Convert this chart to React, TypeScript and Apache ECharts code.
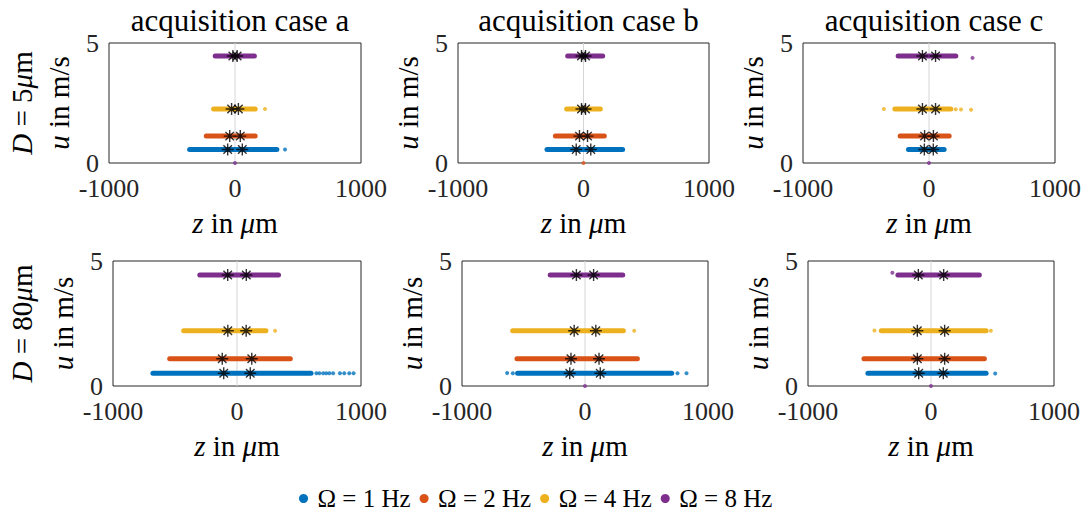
import React, { useEffect, useRef } from 'react';
import * as echarts from 'echarts';

const caseTitles = ['acquisition case a', 'acquisition case b', 'acquisition case c'];
const diameters = ['5', '80'];
const freqNames = ['Ω = 1 Hz', 'Ω = 2 Hz', 'Ω = 4 Hz', 'Ω = 8 Hz'];
const colors = ['#0072BD', '#D95319', '#EDB120', '#7E2F8E'];
const uRowTop = [0.56, 1.12, 2.25, 4.46];
const uRowBottom = [0.51, 1.09, 2.21, 4.44];
const xRange = [-1000, 1000];
const yRange = [0, 5];

// band extents [zmin, zmax] in µm, per frequency (1, 2, 4, 8 Hz)
const bandsA5 = [[-360, 332], [-228, 160], [-170, 160], [-157, 154]];
const bandsB5 = [[-291, 312], [-224, 166], [-134, 134], [-126, 153]];
const bandsC5 = [[-163, 120], [-229, 160], [-271, 173], [-245, 213]];
const bandsA80 = [[-678, 597], [-543, 430], [-430, 233], [-300, 335]];
const bandsB80 = [[-548, 705], [-553, 426], [-588, 312], [-283, 307]];
const bandsC80 = [[-513, 448], [-545, 434], [-404, 448], [-269, 393]];

// isolated points [z, u] per frequency
const outliersA5 = [[[397, 0.56]], [], [[238, 2.25]], []];
const outliersB5 = [[], [], [], []];
const outliersC5 = [[], [], [[-358, 2.25], [212, 2.24], [254, 2.23], [334, 2.22]], [[345, 4.38]]];
const outliersA80 = [
  [[640, 0.51], [665, 0.51], [695, 0.51], [720, 0.51], [745, 0.51], [775, 0.51], [830, 0.51], [865, 0.51], [905, 0.51], [940, 0.51]],
  [], [[307, 2.21]], []];
const outliersB80 = [[[-633, 0.52], [-587, 0.51], [752, 0.51], [825, 0.51]], [], [[400, 2.21]], []];
const outliersC80 = [[[522, 0.5]], [], [[-460, 2.22], [487, 2.21]], [[-314, 4.53]]];

// asterisk markers (z positions) per frequency
const starsA5 = [[-58, 58], [-42, 42], [-27, 27], [-17, 17]];
const starsB5 = [[-58, 58], [-32, 32], [-16, 16], [-16, 16]];
const starsC5 = [[-37, 34], [-35, 35], [-52, 52], [-52, 52]];
const starsA80 = [[-107, 107], [-119, 119], [-74, 74], [-75, 75]];
const starsB80 = [[-124, 124], [-114, 114], [-88, 88], [-70, 70]];
const starsC80 = [[-100, 100], [-111, 111], [-111, 111], [-103, 103]];

// frequency index of the single point at (0, 0), -1 = none
const zeroPointFreq = [3, 1, 3, -1, 3, 3];

const panelBands = [bandsA5, bandsB5, bandsC5, bandsA80, bandsB80, bandsC80];
const panelOutliers = [outliersA5, outliersB5, outliersC5, outliersA80, outliersB80, outliersC80];
const panelStars = [starsA5, starsB5, starsC5, starsA80, starsB80, starsC80];

const gridBoxes = [
  { left: 109, top: 43, width: 252, height: 120 },
  { left: 458, top: 43, width: 251, height: 120 },
  { left: 803, top: 43, width: 252, height: 120 },
  { left: 113, top: 261, width: 248, height: 125 },
  { left: 462, top: 261, width: 246, height: 125 },
  { left: 808, top: 261, width: 246, height: 125 },
];

const SERIF = 'Liberation Serif';
const STAR = 'path://M5 0L5 10M0 5L10 5M1.46 1.46L8.54 8.54M1.46 8.54L8.54 1.46';

export default function App() {
  const ref = useRef<HTMLDivElement>(null);
  useEffect(() => {
    document.body.style.margin = '0';
    const chart = echarts.init(ref.current!, null, { renderer: 'svg' });
    const richName = {
      i: { fontStyle: 'italic', fontFamily: SERIF, fontSize: 29, color: '#000' },
      r: { fontStyle: 'normal', fontFamily: SERIF, fontSize: 29, color: '#000' },
    };
    const grid: any[] = [];
    const xAxis: any[] = [];
    const yAxis: any[] = [];
    const series: any[] = [];
    gridBoxes.forEach((g, p) => {
      const row = p < 3 ? 0 : 1;
      const uRow = row === 0 ? uRowTop : uRowBottom;
      grid.push({ ...g, show: true, borderColor: '#262626', borderWidth: 1, backgroundColor: '#fff' });
      xAxis.push({
        gridIndex: p, type: 'value', min: xRange[0], max: xRange[1], interval: 1000,
        axisLine: { show: false }, axisTick: { show: false }, splitLine: { show: false },
        axisLabel: {
          fontFamily: SERIF, fontSize: 26, color: '#262626', margin: 12, showMinLabel: true, showMaxLabel: true,
          formatter: (v: number) => String(v),
        },
        name: '{i|z}{r| in }{i|μ}{r|m}', nameLocation: 'middle', nameGap: 45,
        nameTextStyle: { fontFamily: SERIF, fontSize: 29, color: '#000', rich: richName },
      });
      yAxis.push({
        gridIndex: p, type: 'value', min: yRange[0], max: yRange[1], interval: 5,
        axisLine: { show: false }, axisTick: { show: false }, splitLine: { show: false },
        axisLabel: { fontFamily: SERIF, fontSize: 26, color: '#262626', margin: 10, formatter: (v: number) => String(v) },
        name: '{i|u}{r| in m/s}', nameLocation: 'middle', nameGap: 36,
        nameTextStyle: { fontFamily: SERIF, fontSize: 29, color: '#000', rich: richName },
      });
      series.push({
        type: 'line', xAxisIndex: p, yAxisIndex: p, data: [[0, yRange[0]], [0, yRange[1]]],
        symbol: 'none', lineStyle: { color: '#d6d6d6', width: 1 }, z: 1, silent: true,
      });
      panelBands[p].forEach((b, f) => {
        series.push({
          type: 'line', name: freqNames[f], xAxisIndex: p, yAxisIndex: p,
          data: [[b[0], uRow[f]], [b[1], uRow[f]]], symbol: 'none',
          lineStyle: { color: colors[f], width: 5, cap: 'round' }, itemStyle: { color: colors[f] }, z: 2,
        });
        const pts = panelOutliers[p][f].slice();
        if (zeroPointFreq[p] === f) pts.push([0, 0]);
        if (pts.length) {
          series.push({
            type: 'scatter', name: freqNames[f], xAxisIndex: p, yAxisIndex: p, data: pts,
            symbolSize: 4, itemStyle: { color: colors[f] }, clip: false, z: 2,
          });
        }
      });
      const starPts: number[][] = [];
      panelStars[p].forEach((s, f) => s.forEach((z) => starPts.push([z, uRow[f]])));
      series.push({
        type: 'scatter', name: 'stars', xAxisIndex: p, yAxisIndex: p, data: starPts,
        symbol: STAR, symbolSize: 12, itemStyle: { color: 'rgba(0,0,0,0)', borderColor: '#000', borderWidth: 1.4 },
        clip: false, z: 4,
      });
    });
    const title = caseTitles.map((t, c) => ({
      text: t, left: gridBoxes[c].left + gridBoxes[c].width / 2, top: 0, textAlign: 'center',
      textStyle: { fontFamily: SERIF, fontSize: 31, fontWeight: 'normal', color: '#000' },
    }));
    const graphic = diameters.map((d, r) => ({
      type: 'text', x: 22, y: gridBoxes[r * 3].top + gridBoxes[r * 3].height / 2, rotation: Math.PI / 2,
      style: {
        text: '{i|D}{r| = ' + d + '}{i|μ}{r|m}', fontFamily: SERIF, fontSize: 29, fill: '#000',
        align: 'center', verticalAlign: 'middle',
        rich: {
          i: { fontStyle: 'italic', fontFamily: SERIF, fontSize: 29, fill: '#000' },
          r: { fontStyle: 'normal', fontFamily: SERIF, fontSize: 29, fill: '#000' },
        },
      },
    }));
    chart.setOption({
      animation: false,
      backgroundColor: '#fff',
      title,
      grid,
      xAxis,
      yAxis,
      series,
      graphic,
      legend: {
        data: freqNames.map((n, f) => ({ name: n, icon: 'circle', itemStyle: { color: colors[f] } })),
        left: 294, top: 481, itemWidth: 18, itemHeight: 9, itemGap: 9,
        textStyle: { fontFamily: SERIF, fontSize: 25, color: '#000' },
        selectedMode: false,
      },
    });
    return () => chart.dispose();
  }, []);
  return <div ref={ref} style={{ width: 1086, height: 514 }} />;
}
